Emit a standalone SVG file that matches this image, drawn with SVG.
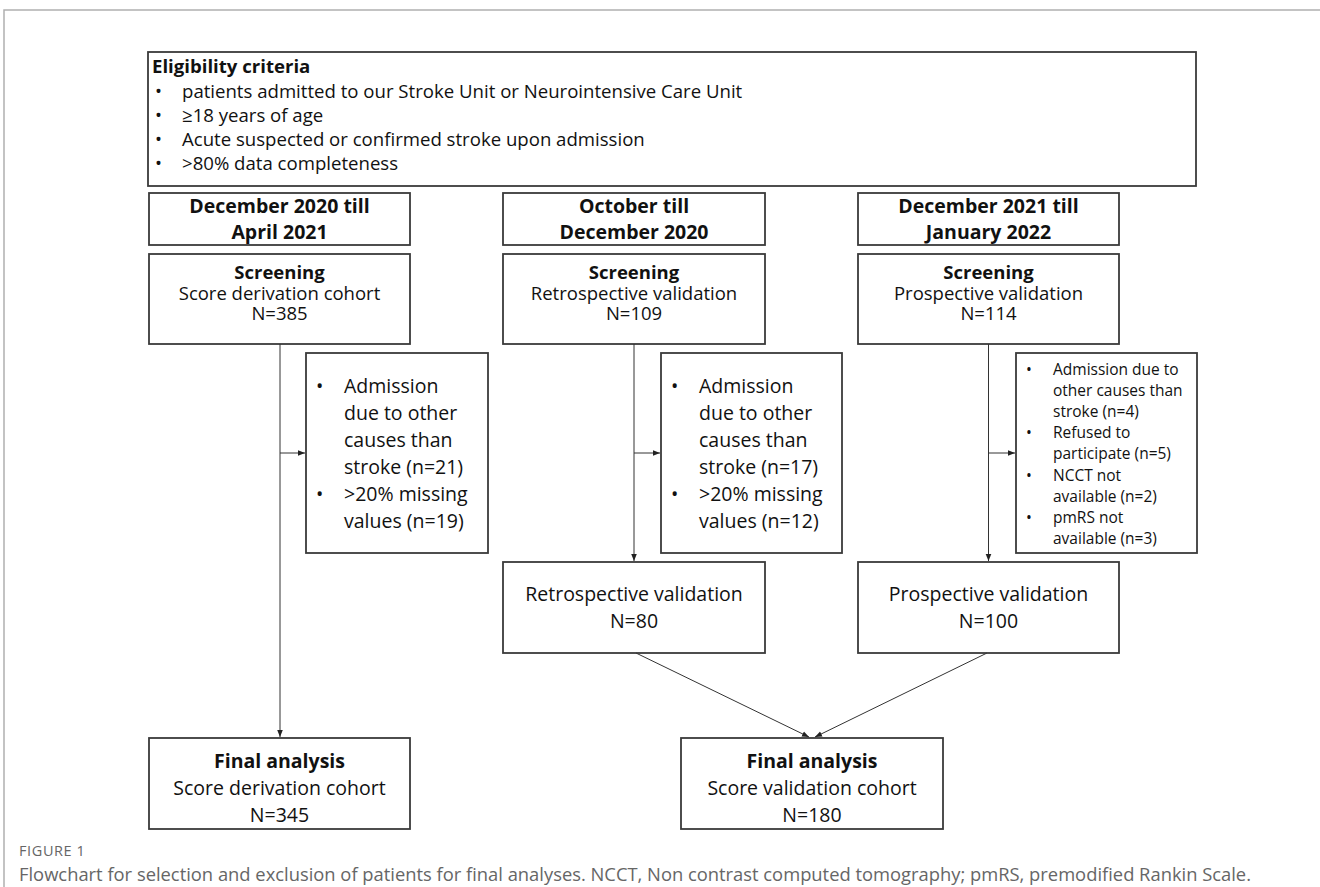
<svg xmlns="http://www.w3.org/2000/svg" width="1320" height="887" viewBox="0 0 1320 887">
<defs>
<style>
.box{fill:#fff;stroke:#3a3a3a;stroke-width:1.8}
.t{font-family:"Open Sans","Liberation Sans",sans-serif;font-size:19.5px;fill:#111}
.e{font-size:18.6px}
.b{font-weight:bold}
.c{text-anchor:middle}
.m{font-size:18.5px}
.s{font-size:15.5px}
.ln{stroke:#333;stroke-width:1;fill:none}
.cap{font-family:"Open Sans","Liberation Sans",sans-serif;fill:#666}
</style>
<marker id="ah" viewBox="0 0 10 10" refX="10" refY="5" markerWidth="7" markerHeight="7" orient="auto" markerUnits="userSpaceOnUse"><path d="M0,1 L10,5 L0,9 z" fill="#222"/></marker>
</defs>
<rect width="1320" height="887" fill="#fff"/>
<path d="M4,887 V10 H1320" fill="none" stroke="#b0b0b0" stroke-width="1.5"/>

<g id="eligibility">
<rect class="box" x="148" y="52" width="1048" height="134"/>
<text class="t e b" x="152" y="73">Eligibility criteria</text>
<text class="t e" x="155" y="98">•</text><text class="t e" x="182" y="98">patients admitted to our Stroke Unit or Neurointensive Care Unit</text>
<text class="t e" x="155" y="122">•</text><text class="t e" x="182" y="122">≥18 years of age</text>
<text class="t e" x="155" y="146">•</text><text class="t e" x="182" y="146">Acute suspected or confirmed stroke upon admission</text>
<text class="t e" x="155" y="170">•</text><text class="t e" x="182" y="170">&gt;80% data completeness</text>
</g>

<g id="header1"><rect class="box" x="149" y="193" width="261" height="52"/>
<text class="t b c" x="279.5" y="213">December 2020 till</text><text class="t b c" x="279.5" y="239">April 2021</text></g>
<g id="header2"><rect class="box" x="503" y="193" width="262" height="52"/>
<text class="t b c" x="634" y="213">October till</text><text class="t b c" x="634" y="239">December 2020</text></g>
<g id="header3"><rect class="box" x="858" y="193" width="261" height="52"/>
<text class="t b c" x="988.5" y="213">December 2021 till</text><text class="t b c" x="988.5" y="239">January 2022</text></g>

<g id="screen1"><rect class="box" x="149" y="254" width="261" height="90"/>
<text class="t m b c" x="279.5" y="279">Screening</text><text class="t m c" x="279.5" y="300">Score derivation cohort</text><text class="t m c" x="279.5" y="320">N=385</text></g>
<g id="screen2"><rect class="box" x="503" y="254" width="262" height="90"/>
<text class="t m b c" x="634" y="279">Screening</text><text class="t m c" x="634" y="300">Retrospective validation</text><text class="t m c" x="634" y="320">N=109</text></g>
<g id="screen3"><rect class="box" x="858" y="254" width="261" height="90"/>
<text class="t m b c" x="988.5" y="279">Screening</text><text class="t m c" x="988.5" y="300">Prospective validation</text><text class="t m c" x="988.5" y="320">N=114</text></g>

<g id="excl1"><rect class="box" x="306" y="353" width="182" height="200"/>
<text class="t" x="316" y="393">•</text><text class="t" x="344" y="393">Admission</text>
<text class="t" x="344" y="420">due to other</text>
<text class="t" x="344" y="447">causes than</text>
<text class="t" x="344" y="474">stroke (n=21)</text>
<text class="t" x="316" y="501">•</text><text class="t" x="344" y="501">&gt;20% missing</text>
<text class="t" x="344" y="528">values (n=19)</text></g>

<g id="excl2"><rect class="box" x="661" y="353" width="181" height="200"/>
<text class="t" x="671" y="393">•</text><text class="t" x="699" y="393">Admission</text>
<text class="t" x="699" y="420">due to other</text>
<text class="t" x="699" y="447">causes than</text>
<text class="t" x="699" y="474">stroke (n=17)</text>
<text class="t" x="671" y="501">•</text><text class="t" x="699" y="501">&gt;20% missing</text>
<text class="t" x="699" y="528">values (n=12)</text></g>

<g id="excl3"><rect class="box" x="1016" y="353" width="181" height="200"/>
<text class="t s" x="1026" y="375">•</text><text class="t s" x="1053" y="375">Admission due to</text>
<text class="t s" x="1053" y="396">other causes than</text>
<text class="t s" x="1053" y="417">stroke (n=4)</text>
<text class="t s" x="1026" y="438">•</text><text class="t s" x="1053" y="438">Refused to</text>
<text class="t s" x="1053" y="459">participate (n=5)</text>
<text class="t s" x="1026" y="481">•</text><text class="t s" x="1053" y="481">NCCT not</text>
<text class="t s" x="1053" y="502">available (n=2)</text>
<text class="t s" x="1026" y="523">•</text><text class="t s" x="1053" y="523">pmRS not</text>
<text class="t s" x="1053" y="544">available (n=3)</text></g>

<g id="retro"><rect class="box" x="503" y="562" width="262" height="91"/>
<text class="t c" x="634" y="601">Retrospective validation</text><text class="t c" x="634" y="628">N=80</text></g>
<g id="prosp"><rect class="box" x="858" y="562" width="261" height="91"/>
<text class="t c" x="988.5" y="601">Prospective validation</text><text class="t c" x="988.5" y="628">N=100</text></g>

<g id="final1"><rect class="box" x="149" y="738" width="261" height="91"/>
<text class="t b c" x="279.5" y="768">Final analysis</text><text class="t c" x="279.5" y="795">Score derivation cohort</text><text class="t c" x="279.5" y="822">N=345</text></g>
<g id="final2"><rect class="box" x="681" y="738" width="262" height="91"/>
<text class="t b c" x="812" y="768">Final analysis</text><text class="t c" x="812" y="795">Score validation cohort</text><text class="t c" x="812" y="822">N=180</text></g>

<g id="connectors">
<line class="ln" x1="280" y1="344" x2="280" y2="737" marker-end="url(#ah)"/>
<line class="ln" x1="280" y1="453" x2="305" y2="453" marker-end="url(#ah)"/>
<line class="ln" x1="634" y1="344" x2="634" y2="561" marker-end="url(#ah)"/>
<line class="ln" x1="634" y1="453" x2="660" y2="453" marker-end="url(#ah)"/>
<line class="ln" x1="988.5" y1="344" x2="988.5" y2="561" marker-end="url(#ah)"/>
<line class="ln" x1="988.5" y1="453" x2="1015" y2="453" marker-end="url(#ah)"/>
<line class="ln" x1="636" y1="653" x2="809" y2="737" marker-end="url(#ah)"/>
<line class="ln" x1="987" y1="653" x2="815" y2="737" marker-end="url(#ah)"/>
</g>

<g id="caption">
<text class="cap" x="19" y="856" font-size="14.5" letter-spacing="0.6">FIGURE 1</text>
<text class="cap" x="19" y="881" font-size="17.5" fill="#555" textLength="1232" lengthAdjust="spacingAndGlyphs">Flowchart for selection and exclusion of patients for final analyses. NCCT, Non contrast computed tomography; pmRS, premodified Rankin Scale.</text>
</g>
</svg>
